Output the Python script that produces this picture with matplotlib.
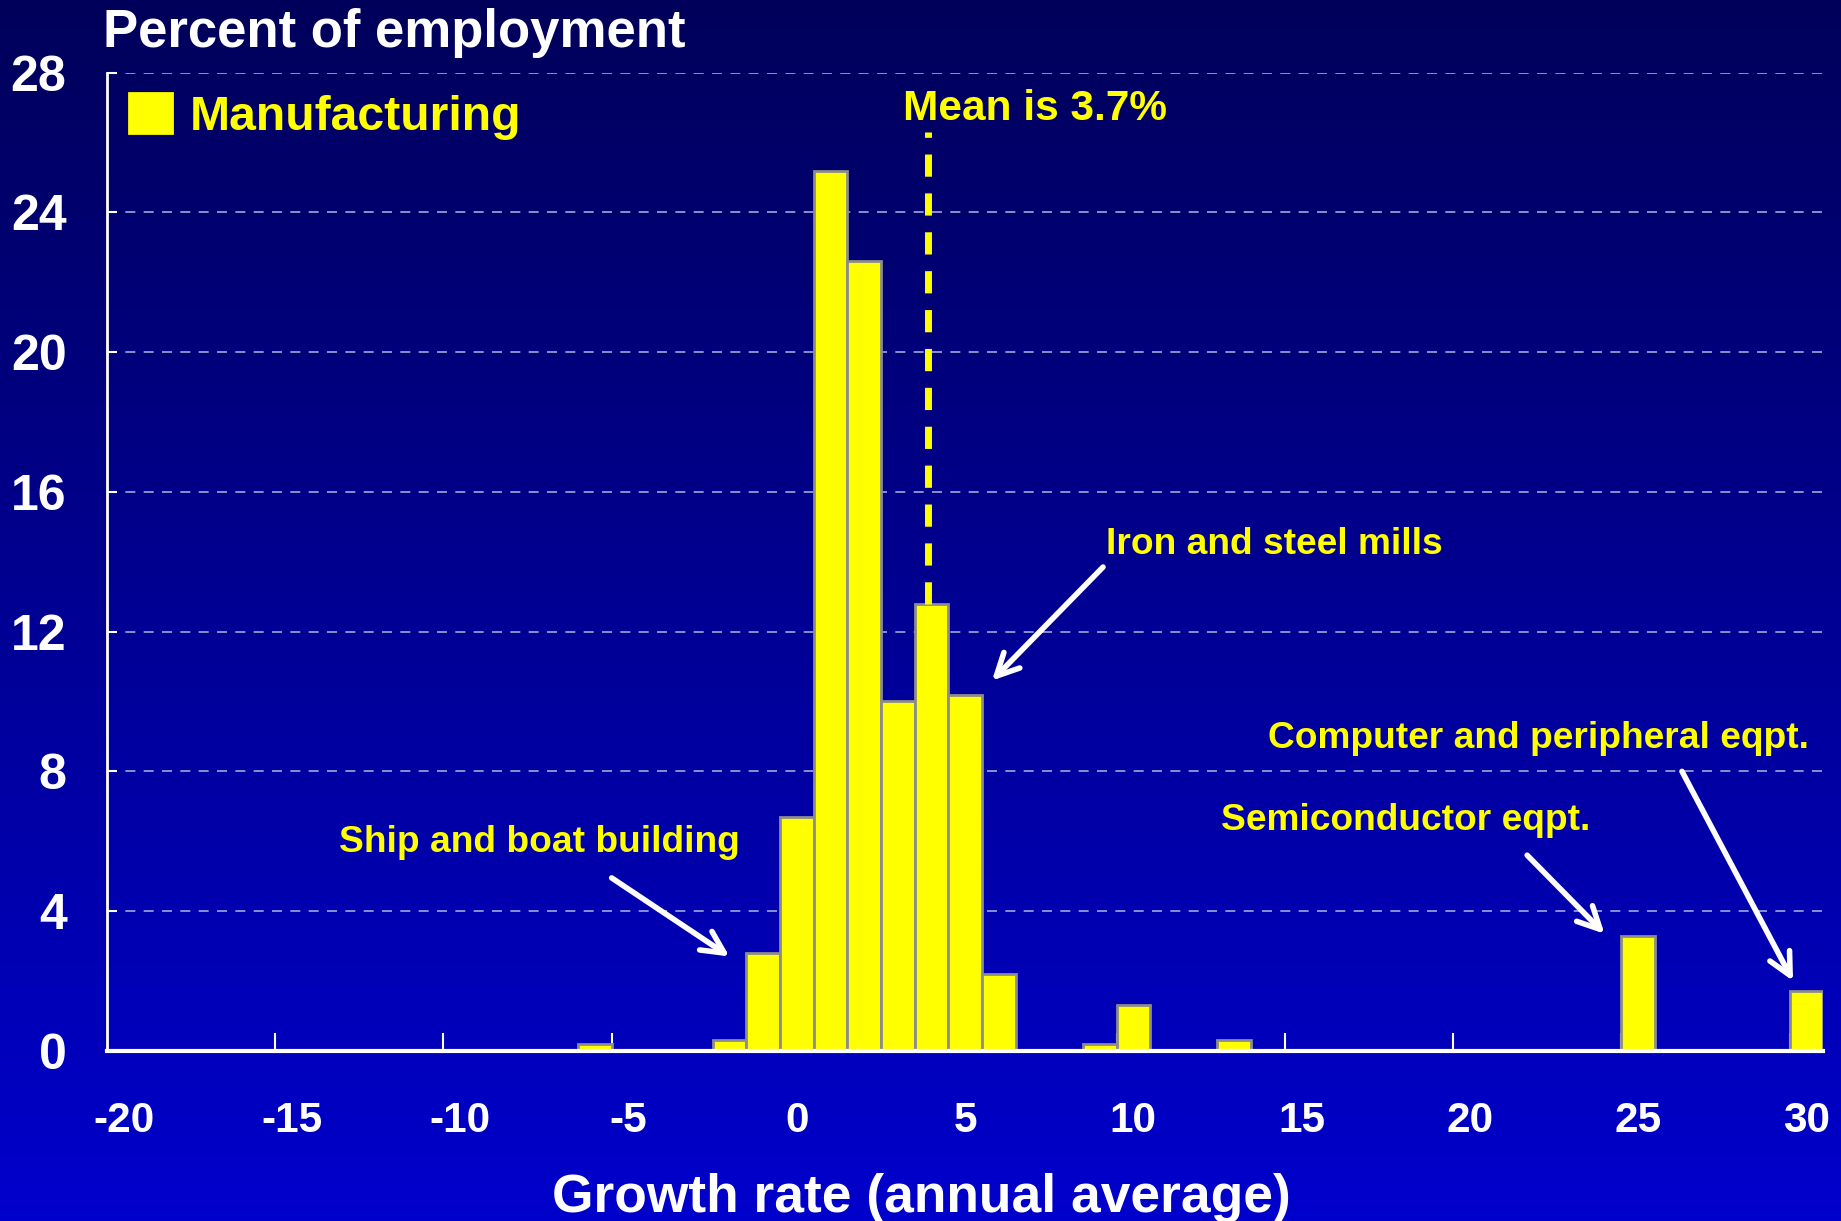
import numpy as np
import matplotlib
matplotlib.use("Agg")
import matplotlib.pyplot as plt
from matplotlib.colors import LinearSegmentedColormap

plt.rcParams['font.family'] = ['Liberation Sans', 'DejaVu Sans']
plt.rcParams['font.weight'] = 'bold'
plt.rcParams['axes.unicode_minus'] = False

# data: growth rate bins (annual average, %) and share of employment
growth = [-6, -2, -1, 0, 1, 2, 3, 4, 5, 6, 9, 10, 13, 25, 30]
share = [0.2, 0.3, 2.8, 6.7, 25.2, 22.6, 10.0, 12.8, 10.2, 2.2, 0.2, 1.3, 0.3, 3.3, 1.7]
mean_growth = 3.7
mean_line_x = 3.9
xticks = [-20, -15, -10, -5, 0, 5, 10, 15, 20, 25, 30]
yticks = [0, 4, 8, 12, 16, 20, 24, 28]

notes = [
    ("Iron and steel mills", (9.2, 14.5), (9.1, 13.85), (5.8, 10.6)),
    ("Ship and boat building", (-13.6, 5.95), (-5.5, 4.95), (-2.0, 2.7)),
    ("Computer and peripheral eqpt.", (14.0, 8.95), (26.3, 8.0), (29.6, 2.0)),
    ("Semiconductor eqpt.", (12.6, 6.6), (21.7, 5.6), (24.0, 3.35)),
]

fig = plt.figure(figsize=(18.41, 12.21), dpi=100)

# background gradient
bg = fig.add_axes([0, 0, 1, 1], zorder=-10)
grad = LinearSegmentedColormap.from_list("bg", ["#00005a", "#0000cc"])
bg.imshow(np.linspace(0, 1, 256).reshape(-1, 1), aspect='auto', cmap=grad,
          extent=[0, 1, 1, 0])
bg.set_axis_off()

ax = fig.add_axes([0.058, 0.1394, 0.9324, 0.801])
ax.patch.set_alpha(0)

ax.bar(growth, share, width=1.0, color='#ffff00', edgecolor='#8c8c8c',
       linewidth=2, zorder=3, label='Manufacturing')

ax.set_xlim(-20.5, 30.5)
ax.set_ylim(0, 28)

ax.set_yticks(yticks)
ax.yaxis.grid(True, color='#a0a8d8', linestyle=(0, (6, 5)), linewidth=1.2, zorder=1)
ax.set_xticks(xticks)
ax.set_xticks([x - 0.5 for x in xticks[1:]], minor=True)
ax.tick_params(axis='x', which='major', length=0, pad=36, labelsize=30.5,
               labelcolor='white')
ax.tick_params(axis='x', which='minor', direction='in', length=13, width=1.5,
               color='white')
ax.tick_params(axis='y', direction='in', length=7, width=1.5, color='white',
               labelsize=36, labelcolor='white', pad=29)
for lbl in ax.get_xticklabels() + ax.get_yticklabels():
    lbl.set_fontweight('bold')

for s in ['top', 'right']:
    ax.spines[s].set_visible(False)
ax.spines['left'].set_color('white')
ax.spines['left'].set_linewidth(2)
ax.spines['bottom'].set_color('white')
ax.spines['bottom'].set_linewidth(3)
ax.spines['bottom'].set_zorder(5)

# mean line
ax.plot([mean_line_x, mean_line_x], [12.8, 26.3], color='#ffff00', lw=5,
        linestyle=(0, (3.2, 2.4)), zorder=4)
ax.text(3.15, 26.95, "Mean is %.1f%%" % mean_growth, color='#ffff00', fontsize=30.5,
        fontweight='bold', va='center', ha='left')

for txt, tpos, start, end in notes:
    ax.text(tpos[0], tpos[1], txt, color='#ffff00', fontsize=26.7,
            fontweight='bold', va='center', ha='left')
    ax.annotate('', xy=end, xytext=start,
                arrowprops=dict(arrowstyle='->', color='white', lw=4,
                                mutation_scale=40, shrinkA=0, shrinkB=0),
                zorder=6)

leg = ax.legend(loc='upper left', bbox_to_anchor=(0.013, 0.979), frameon=False,
                handlelength=0.9, handleheight=0.9, handletextpad=0.35,
                borderaxespad=0, borderpad=0,
                prop={'size': 34.7, 'weight': 'bold'})
for t in leg.get_texts():
    t.set_color('#ffff00')
for h in leg.legend_handles:
    h.set_edgecolor('#ffff00')

fig.text(0.0561, 0.973, "Percent of employment", color='white', fontsize=38,
         fontweight='bold', va='center', ha='left')
fig.text(0.5006, 0.019, "Growth rate (annual average)", color='white',
         fontsize=38.4, fontweight='bold', va='center', ha='center')

fig.savefig("out.png", dpi=100)
